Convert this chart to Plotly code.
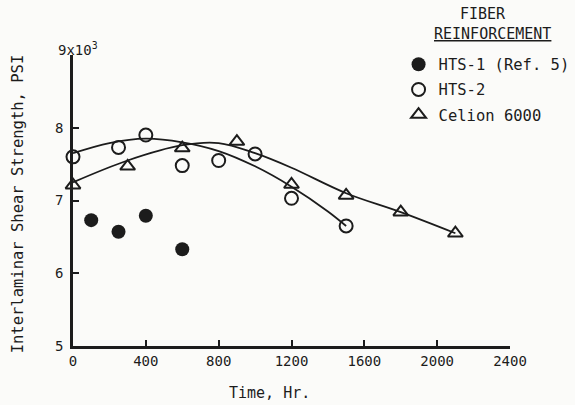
import plotly.graph_objects as go

# Data
hts1_time = [100, 250, 400, 600]
hts1_strength = [6.73, 6.57, 6.79, 6.33]

hts2_time = [0, 250, 400, 600, 800, 1000, 1200, 1500]
hts2_strength = [7.60, 7.73, 7.90, 7.48, 7.55, 7.64, 7.03, 6.65]

celion_time = [0, 300, 600, 900, 1200, 1500, 1800, 2100]
celion_strength = [7.21, 7.47, 7.72, 7.81, 7.22, 7.07, 6.84, 6.55]

# Faired curves drawn through the data
hts2_curve_time = [0, 200, 400, 600, 800, 1000, 1200, 1400, 1500]
hts2_curve_strength = [7.65, 7.79, 7.85, 7.80, 7.68, 7.47, 7.19, 6.85, 6.65]

celion_curve_time = [0, 300, 600, 800, 1000, 1200, 1500, 1800, 2100]
celion_curve_strength = [7.25, 7.55, 7.76, 7.79, 7.65, 7.45, 7.10, 6.84, 6.55]

x_ticks = [0, 400, 800, 1200, 1600, 2000, 2400]
y_ticks = [5, 6, 7, 8, 9]
y_ticktext = ["5", "6", "7", "8", ""]

FONT = "DejaVu Sans Mono"
INK = "#1c1c1c"

fig = go.Figure()

fig.add_trace(go.Scatter(x=hts2_curve_time, y=hts2_curve_strength, mode="lines",
                         line=dict(color=INK, width=1.8, shape="spline"),
                         showlegend=False, hoverinfo="skip", cliponaxis=False))
fig.add_trace(go.Scatter(x=celion_curve_time, y=celion_curve_strength, mode="lines",
                         line=dict(color=INK, width=1.8, shape="spline"),
                         showlegend=False, hoverinfo="skip", cliponaxis=False))

fig.add_trace(go.Scatter(x=hts1_time, y=hts1_strength, mode="markers", name="HTS-1 (Ref. 5)",
                         marker=dict(symbol="circle", size=14, color=INK),
                         cliponaxis=False, legendgroup="a"))
fig.add_trace(go.Scatter(x=hts2_time, y=hts2_strength, mode="markers", name="HTS-2",
                         marker=dict(symbol="circle-open", size=13, color=INK, line=dict(width=2)),
                         cliponaxis=False, legendgroup="b"))
fig.add_trace(go.Scatter(x=celion_time, y=celion_strength, mode="markers", name="Celion 6000",
                         marker=dict(symbol="triangle-up-open", size=13, color=INK, line=dict(width=2)),
                         cliponaxis=False, legendgroup="c"))

fig.update_layout(
    width=575, height=405,
    margin=dict(l=73, r=65, t=55, b=59, autoexpand=False),
    paper_bgcolor="#fbfbf9", plot_bgcolor="#fbfbf9",
    font=dict(family=FONT, size=14, color=INK),
    showlegend=True,
    legend=dict(x=0.745, y=1.025, xanchor="left", yanchor="top",
                font=dict(family=FONT, size=15.5, color=INK),
                bgcolor="rgba(0,0,0,0)", tracegroupgap=2, itemsizing="trace"),
    xaxis=dict(range=[0, 2400], tickvals=x_ticks, ticks="inside", ticklen=6, tickwidth=2,
               tickcolor=INK, showline=True, linecolor=INK, linewidth=2.5,
               showgrid=False, zeroline=False, tickfont=dict(size=14)),
    yaxis=dict(range=[5, 9], tickvals=y_ticks, ticktext=y_ticktext, ticks="inside",
               ticklen=6, tickwidth=2, tickcolor=INK, showline=True, linecolor=INK,
               linewidth=2.5, showgrid=False, zeroline=False, tickfont=dict(size=14),
               ticklabelstandoff=4),
    annotations=[
        dict(text="9x10<sup>3</sup>", xref="paper", yref="y", x=-0.039, y=9,
             xanchor="left", yanchor="bottom", yshift=-5, showarrow=False, font=dict(size=14)),
        dict(text="FIBER", xref="paper", yref="paper", x=0.938, y=1.142,
             xanchor="center", yanchor="middle", showarrow=False, font=dict(size=15)),
        dict(text="<u>REINFORCEMENT</u>", xref="paper", yref="paper", x=0.959, y=1.072,
             xanchor="center", yanchor="middle", showarrow=False, font=dict(size=15)),
        dict(text="Time, Hr.", xref="paper", yref="paper", x=0.45, y=-0.16,
             xanchor="center", yanchor="middle", showarrow=False, font=dict(size=15)),
        dict(text="Interlaminar Shear Strength, PSI", xref="paper", yref="paper",
             x=-0.126, y=0.49, xanchor="center", yanchor="middle", textangle=-90,
             showarrow=False, font=dict(size=15.5)),
    ],
)

fig.write_html("out.html", config={"displayModeBar": False},
               post_script="document.body.style.margin='0';")
